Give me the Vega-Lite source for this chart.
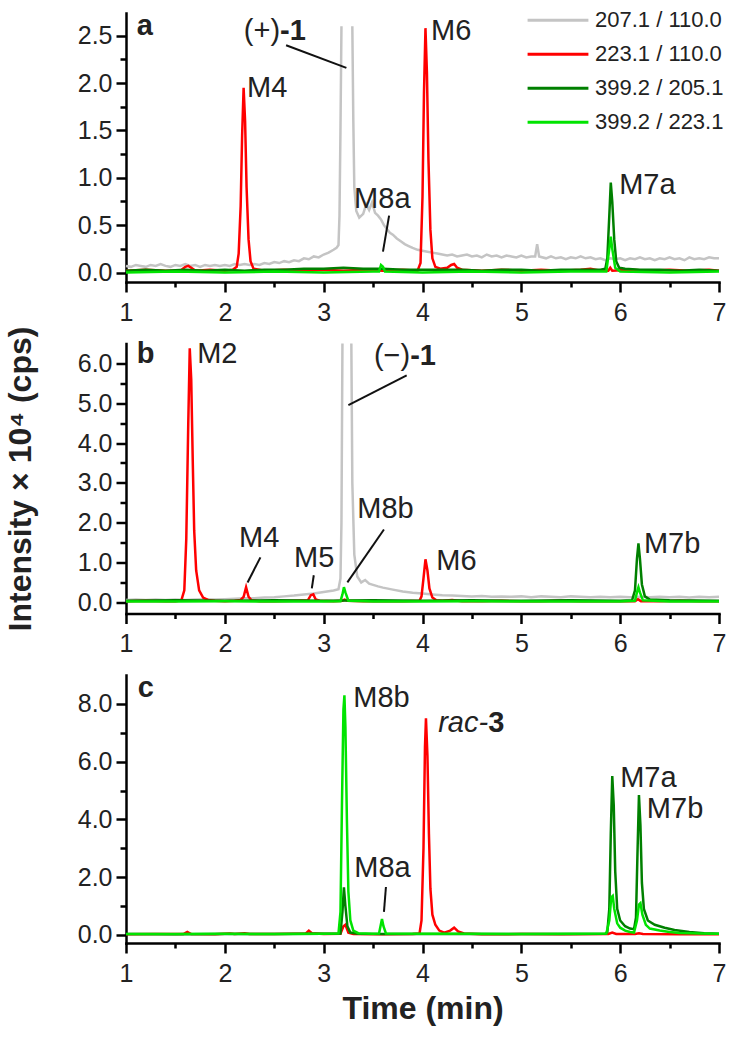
{
  "$schema": "https://vega.github.io/schema/vega-lite/v6.json",
  "background": "white",
  "padding": {"left": 4, "top": 3, "right": 8, "bottom": 2},
  "spacing": 61.5,
  "bounds": "flush",
  "config": {
    "view": {"stroke": null},
    "font": "Liberation Sans",
    "axis": {"grid": false, "domainColor": "black", "domainWidth": 2.5, "domainCap": "square", "tickColor": "black", "tickWidth": 2.5, "labelColor": "#222", "labelFont": "Liberation Sans", "labelFontSize": 25, "labelOverlap": false, "labelPadding": 4},
    "axisX": {"labelPadding": 8},
    "text": {"font": "Liberation Sans", "color": "#222"}
  },
  "resolve": {"scale": {"color": "shared"}, "legend": {"color": "shared"}},
  "datasets": {
    "tr": [
      {"p":"a","s":"s1","x":1.00,"y":0.07},{"p":"a","s":"s1","x":1.05,"y":0.06},{"p":"a","s":"s1","x":1.10,"y":0.08},{"p":"a","s":"s1","x":1.15,"y":0.07},{"p":"a","s":"s1","x":1.20,"y":0.06},{"p":"a","s":"s1","x":1.25,"y":0.08},{"p":"a","s":"s1","x":1.30,"y":0.07},{"p":"a","s":"s1","x":1.35,"y":0.09},{"p":"a","s":"s1","x":1.40,"y":0.07},{"p":"a","s":"s1","x":1.45,"y":0.06},{"p":"a","s":"s1","x":1.50,"y":0.08},{"p":"a","s":"s1","x":1.55,"y":0.07},{"p":"a","s":"s1","x":1.60,"y":0.09},{"p":"a","s":"s1","x":1.65,"y":0.07},{"p":"a","s":"s1","x":1.70,"y":0.08},{"p":"a","s":"s1","x":1.75,"y":0.06},{"p":"a","s":"s1","x":1.80,"y":0.08},{"p":"a","s":"s1","x":1.85,"y":0.07},{"p":"a","s":"s1","x":1.90,"y":0.08},{"p":"a","s":"s1","x":1.95,"y":0.07},{"p":"a","s":"s1","x":2.00,"y":0.08},{"p":"a","s":"s1","x":2.05,"y":0.07},{"p":"a","s":"s1","x":2.10,"y":0.09},{"p":"a","s":"s1","x":2.15,"y":0.08},{"p":"a","s":"s1","x":2.20,"y":0.09},{"p":"a","s":"s1","x":2.25,"y":0.08},{"p":"a","s":"s1","x":2.30,"y":0.09},{"p":"a","s":"s1","x":2.35,"y":0.08},{"p":"a","s":"s1","x":2.40,"y":0.10},{"p":"a","s":"s1","x":2.45,"y":0.09},{"p":"a","s":"s1","x":2.50,"y":0.11},{"p":"a","s":"s1","x":2.55,"y":0.10},{"p":"a","s":"s1","x":2.60,"y":0.12},{"p":"a","s":"s1","x":2.65,"y":0.11},{"p":"a","s":"s1","x":2.70,"y":0.13},{"p":"a","s":"s1","x":2.75,"y":0.12},{"p":"a","s":"s1","x":2.80,"y":0.15},{"p":"a","s":"s1","x":2.85,"y":0.14},{"p":"a","s":"s1","x":2.90,"y":0.17},{"p":"a","s":"s1","x":2.95,"y":0.16},{"p":"a","s":"s1","x":3.00,"y":0.19},{"p":"a","s":"s1","x":3.05,"y":0.21},{"p":"a","s":"s1","x":3.10,"y":0.24},{"p":"a","s":"s1","x":3.13,"y":0.26},{"p":"a","s":"s1","x":3.15,"y":0.29},{"p":"a","s":"s1","x":3.16,"y":0.6},{"p":"a","s":"s1","x":3.17,"y":1.5},{"p":"a","s":"s1","x":3.18,"y":2.6},
      {"p":"a","s":"s1","k":2,"x":3.29,"y":2.6},{"p":"a","s":"s1","k":2,"x":3.30,"y":1.6},{"p":"a","s":"s1","k":2,"x":3.31,"y":0.9},{"p":"a","s":"s1","k":2,"x":3.33,"y":0.65},{"p":"a","s":"s1","k":2,"x":3.36,"y":0.58},{"p":"a","s":"s1","k":2,"x":3.40,"y":0.62},{"p":"a","s":"s1","k":2,"x":3.43,"y":0.72},{"p":"a","s":"s1","k":2,"x":3.46,"y":0.66},{"p":"a","s":"s1","k":2,"x":3.49,"y":0.74},{"p":"a","s":"s1","k":2,"x":3.52,"y":0.63},{"p":"a","s":"s1","k":2,"x":3.55,"y":0.60},{"p":"a","s":"s1","k":2,"x":3.58,"y":0.56},{"p":"a","s":"s1","k":2,"x":3.61,"y":0.50},{"p":"a","s":"s1","k":2,"x":3.64,"y":0.46},{"p":"a","s":"s1","k":2,"x":3.67,"y":0.42},{"p":"a","s":"s1","k":2,"x":3.70,"y":0.40},{"p":"a","s":"s1","k":2,"x":3.74,"y":0.36},{"p":"a","s":"s1","k":2,"x":3.78,"y":0.33},{"p":"a","s":"s1","k":2,"x":3.82,"y":0.30},{"p":"a","s":"s1","k":2,"x":3.86,"y":0.28},{"p":"a","s":"s1","k":2,"x":3.90,"y":0.26},{"p":"a","s":"s1","k":2,"x":3.95,"y":0.24},{"p":"a","s":"s1","k":2,"x":4.00,"y":0.23},{"p":"a","s":"s1","k":2,"x":4.05,"y":0.22},{"p":"a","s":"s1","k":2,"x":4.10,"y":0.21},{"p":"a","s":"s1","k":2,"x":4.15,"y":0.20},{"p":"a","s":"s1","k":2,"x":4.20,"y":0.19},{"p":"a","s":"s1","k":2,"x":4.25,"y":0.18},{"p":"a","s":"s1","k":2,"x":4.30,"y":0.19},{"p":"a","s":"s1","k":2,"x":4.35,"y":0.17},{"p":"a","s":"s1","k":2,"x":4.40,"y":0.18},{"p":"a","s":"s1","k":2,"x":4.45,"y":0.19},{"p":"a","s":"s1","k":2,"x":4.50,"y":0.17},{"p":"a","s":"s1","k":2,"x":4.55,"y":0.18},{"p":"a","s":"s1","k":2,"x":4.60,"y":0.16},{"p":"a","s":"s1","k":2,"x":4.65,"y":0.19},{"p":"a","s":"s1","k":2,"x":4.70,"y":0.17},{"p":"a","s":"s1","k":2,"x":4.75,"y":0.18},{"p":"a","s":"s1","k":2,"x":4.80,"y":0.16},{"p":"a","s":"s1","k":2,"x":4.85,"y":0.18},{"p":"a","s":"s1","k":2,"x":4.90,"y":0.17},{"p":"a","s":"s1","k":2,"x":4.95,"y":0.16},{"p":"a","s":"s1","k":2,"x":5.00,"y":0.18},{"p":"a","s":"s1","k":2,"x":5.05,"y":0.16},{"p":"a","s":"s1","k":2,"x":5.10,"y":0.17},{"p":"a","s":"s1","k":2,"x":5.14,"y":0.17},{"p":"a","s":"s1","k":2,"x":5.16,"y":0.30},{"p":"a","s":"s1","k":2,"x":5.18,"y":0.17},{"p":"a","s":"s1","k":2,"x":5.25,"y":0.15},{"p":"a","s":"s1","k":2,"x":5.30,"y":0.17},{"p":"a","s":"s1","k":2,"x":5.35,"y":0.15},{"p":"a","s":"s1","k":2,"x":5.40,"y":0.16},{"p":"a","s":"s1","k":2,"x":5.45,"y":0.14},{"p":"a","s":"s1","k":2,"x":5.50,"y":0.16},{"p":"a","s":"s1","k":2,"x":5.55,"y":0.15},{"p":"a","s":"s1","k":2,"x":5.60,"y":0.17},{"p":"a","s":"s1","k":2,"x":5.65,"y":0.15},{"p":"a","s":"s1","k":2,"x":5.70,"y":0.16},{"p":"a","s":"s1","k":2,"x":5.75,"y":0.14},{"p":"a","s":"s1","k":2,"x":5.80,"y":0.15},{"p":"a","s":"s1","k":2,"x":5.85,"y":0.13},{"p":"a","s":"s1","k":2,"x":5.90,"y":0.15},{"p":"a","s":"s1","k":2,"x":5.95,"y":0.14},{"p":"a","s":"s1","k":2,"x":6.00,"y":0.15},{"p":"a","s":"s1","k":2,"x":6.05,"y":0.13},{"p":"a","s":"s1","k":2,"x":6.10,"y":0.15},{"p":"a","s":"s1","k":2,"x":6.15,"y":0.14},{"p":"a","s":"s1","k":2,"x":6.20,"y":0.16},{"p":"a","s":"s1","k":2,"x":6.25,"y":0.14},{"p":"a","s":"s1","k":2,"x":6.30,"y":0.15},{"p":"a","s":"s1","k":2,"x":6.35,"y":0.13},{"p":"a","s":"s1","k":2,"x":6.40,"y":0.15},{"p":"a","s":"s1","k":2,"x":6.45,"y":0.14},{"p":"a","s":"s1","k":2,"x":6.50,"y":0.16},{"p":"a","s":"s1","k":2,"x":6.55,"y":0.14},{"p":"a","s":"s1","k":2,"x":6.60,"y":0.15},{"p":"a","s":"s1","k":2,"x":6.65,"y":0.13},{"p":"a","s":"s1","k":2,"x":6.70,"y":0.16},{"p":"a","s":"s1","k":2,"x":6.75,"y":0.14},{"p":"a","s":"s1","k":2,"x":6.80,"y":0.15},{"p":"a","s":"s1","k":2,"x":6.85,"y":0.14},{"p":"a","s":"s1","k":2,"x":6.90,"y":0.16},{"p":"a","s":"s1","k":2,"x":6.95,"y":0.15},{"p":"a","s":"s1","k":2,"x":7.00,"y":0.15},

      {"p":"a","s":"s2","x":1.0,"y":0.02},{"p":"a","s":"s2","x":1.2,"y":0.03},{"p":"a","s":"s2","x":1.4,"y":0.02},{"p":"a","s":"s2","x":1.55,"y":0.02},{"p":"a","s":"s2","x":1.6,"y":0.06},{"p":"a","s":"s2","x":1.63,"y":0.07},{"p":"a","s":"s2","x":1.66,"y":0.05},{"p":"a","s":"s2","x":1.7,"y":0.02},{"p":"a","s":"s2","x":1.85,"y":0.03},{"p":"a","s":"s2","x":2.0,"y":0.02},{"p":"a","s":"s2","x":2.08,"y":0.03},{"p":"a","s":"s2","x":2.12,"y":0.06},{"p":"a","s":"s2","x":2.14,"y":0.2},{"p":"a","s":"s2","x":2.16,"y":0.7},{"p":"a","s":"s2","x":2.175,"y":1.45},{"p":"a","s":"s2","x":2.19,"y":1.95},{"p":"a","s":"s2","x":2.205,"y":1.6},{"p":"a","s":"s2","x":2.22,"y":0.9},{"p":"a","s":"s2","x":2.24,"y":0.35},{"p":"a","s":"s2","x":2.26,"y":0.12},{"p":"a","s":"s2","x":2.29,"y":0.04},{"p":"a","s":"s2","x":2.4,"y":0.02},{"p":"a","s":"s2","x":2.6,"y":0.03},{"p":"a","s":"s2","x":2.8,"y":0.02},{"p":"a","s":"s2","x":3.0,"y":0.03},{"p":"a","s":"s2","x":3.2,"y":0.02},{"p":"a","s":"s2","x":3.4,"y":0.03},{"p":"a","s":"s2","x":3.6,"y":0.02},{"p":"a","s":"s2","x":3.8,"y":0.03},{"p":"a","s":"s2","x":3.95,"y":0.02},{"p":"a","s":"s2","x":3.98,"y":0.1},{"p":"a","s":"s2","x":4.0,"y":0.8},{"p":"a","s":"s2","x":4.015,"y":1.9},{"p":"a","s":"s2","x":4.03,"y":2.58},{"p":"a","s":"s2","x":4.045,"y":2.1},{"p":"a","s":"s2","x":4.06,"y":1.2},{"p":"a","s":"s2","x":4.08,"y":0.45},{"p":"a","s":"s2","x":4.1,"y":0.15},{"p":"a","s":"s2","x":4.13,"y":0.06},{"p":"a","s":"s2","x":4.18,"y":0.04},{"p":"a","s":"s2","x":4.25,"y":0.05},{"p":"a","s":"s2","x":4.29,"y":0.08},{"p":"a","s":"s2","x":4.32,"y":0.09},{"p":"a","s":"s2","x":4.35,"y":0.05},{"p":"a","s":"s2","x":4.4,"y":0.03},{"p":"a","s":"s2","x":4.6,"y":0.02},{"p":"a","s":"s2","x":4.8,"y":0.03},{"p":"a","s":"s2","x":5.0,"y":0.02},{"p":"a","s":"s2","x":5.2,"y":0.03},{"p":"a","s":"s2","x":5.4,"y":0.02},{"p":"a","s":"s2","x":5.6,"y":0.03},{"p":"a","s":"s2","x":5.7,"y":0.04},{"p":"a","s":"s2","x":5.8,"y":0.02},{"p":"a","s":"s2","x":5.88,"y":0.02},{"p":"a","s":"s2","x":5.9,"y":0.05},{"p":"a","s":"s2","x":5.92,"y":0.02},{"p":"a","s":"s2","x":6.1,"y":0.03},{"p":"a","s":"s2","x":6.3,"y":0.02},{"p":"a","s":"s2","x":6.5,"y":0.03},{"p":"a","s":"s2","x":6.7,"y":0.02},{"p":"a","s":"s2","x":6.9,"y":0.03},{"p":"a","s":"s2","x":7.0,"y":0.02},

      {"p":"a","s":"s3","x":1.0,"y":0.02},{"p":"a","s":"s3","x":1.2,"y":0.03},{"p":"a","s":"s3","x":1.4,"y":0.02},{"p":"a","s":"s3","x":1.6,"y":0.03},{"p":"a","s":"s3","x":1.8,"y":0.02},{"p":"a","s":"s3","x":2.0,"y":0.03},{"p":"a","s":"s3","x":2.2,"y":0.02},{"p":"a","s":"s3","x":2.4,"y":0.03},{"p":"a","s":"s3","x":2.6,"y":0.03},{"p":"a","s":"s3","x":2.8,"y":0.04},{"p":"a","s":"s3","x":3.0,"y":0.04},{"p":"a","s":"s3","x":3.2,"y":0.05},{"p":"a","s":"s3","x":3.4,"y":0.04},{"p":"a","s":"s3","x":3.6,"y":0.04},{"p":"a","s":"s3","x":3.8,"y":0.03},{"p":"a","s":"s3","x":4.0,"y":0.03},{"p":"a","s":"s3","x":4.2,"y":0.03},{"p":"a","s":"s3","x":4.4,"y":0.03},{"p":"a","s":"s3","x":4.6,"y":0.02},{"p":"a","s":"s3","x":4.8,"y":0.03},{"p":"a","s":"s3","x":5.0,"y":0.03},{"p":"a","s":"s3","x":5.2,"y":0.02},{"p":"a","s":"s3","x":5.4,"y":0.03},{"p":"a","s":"s3","x":5.6,"y":0.03},{"p":"a","s":"s3","x":5.8,"y":0.03},{"p":"a","s":"s3","x":5.85,"y":0.04},{"p":"a","s":"s3","x":5.87,"y":0.15},{"p":"a","s":"s3","x":5.89,"y":0.6},{"p":"a","s":"s3","x":5.905,"y":0.95},{"p":"a","s":"s3","x":5.92,"y":0.75},{"p":"a","s":"s3","x":5.94,"y":0.35},{"p":"a","s":"s3","x":5.96,"y":0.12},{"p":"a","s":"s3","x":5.99,"y":0.05},{"p":"a","s":"s3","x":6.05,"y":0.04},{"p":"a","s":"s3","x":6.2,"y":0.03},{"p":"a","s":"s3","x":6.4,"y":0.03},{"p":"a","s":"s3","x":6.6,"y":0.02},{"p":"a","s":"s3","x":6.8,"y":0.03},{"p":"a","s":"s3","x":7.0,"y":0.02},

      {"p":"a","s":"s4","x":1.0,"y":0.0},{"p":"a","s":"s4","x":1.5,"y":0.01},{"p":"a","s":"s4","x":2.0,"y":0.0},{"p":"a","s":"s4","x":2.5,"y":0.01},{"p":"a","s":"s4","x":3.0,"y":0.0},{"p":"a","s":"s4","x":3.5,"y":0.01},{"p":"a","s":"s4","x":3.56,"y":0.01},{"p":"a","s":"s4","x":3.58,"y":0.08},{"p":"a","s":"s4","x":3.6,"y":0.06},{"p":"a","s":"s4","x":3.62,"y":0.01},{"p":"a","s":"s4","x":4.0,"y":0.0},{"p":"a","s":"s4","x":4.5,"y":0.01},{"p":"a","s":"s4","x":5.0,"y":0.0},{"p":"a","s":"s4","x":5.5,"y":0.01},{"p":"a","s":"s4","x":5.86,"y":0.01},{"p":"a","s":"s4","x":5.89,"y":0.25},{"p":"a","s":"s4","x":5.905,"y":0.38},{"p":"a","s":"s4","x":5.92,"y":0.25},{"p":"a","s":"s4","x":5.95,"y":0.05},{"p":"a","s":"s4","x":6.0,"y":0.01},{"p":"a","s":"s4","x":6.5,"y":0.0},{"p":"a","s":"s4","x":7.0,"y":0.01},

      {"p":"b","s":"s1","x":1.0,"y":0.06},{"p":"b","s":"s1","x":1.1,"y":0.07},{"p":"b","s":"s1","x":1.2,"y":0.06},{"p":"b","s":"s1","x":1.3,"y":0.07},{"p":"b","s":"s1","x":1.4,"y":0.06},{"p":"b","s":"s1","x":1.5,"y":0.07},{"p":"b","s":"s1","x":1.6,"y":0.06},{"p":"b","s":"s1","x":1.7,"y":0.07},{"p":"b","s":"s1","x":1.8,"y":0.08},{"p":"b","s":"s1","x":1.9,"y":0.07},{"p":"b","s":"s1","x":2.0,"y":0.08},{"p":"b","s":"s1","x":2.1,"y":0.09},{"p":"b","s":"s1","x":2.2,"y":0.1},{"p":"b","s":"s1","x":2.3,"y":0.1},{"p":"b","s":"s1","x":2.4,"y":0.12},{"p":"b","s":"s1","x":2.5,"y":0.13},{"p":"b","s":"s1","x":2.6,"y":0.15},{"p":"b","s":"s1","x":2.7,"y":0.17},{"p":"b","s":"s1","x":2.8,"y":0.2},{"p":"b","s":"s1","x":2.9,"y":0.22},{"p":"b","s":"s1","x":3.0,"y":0.26},{"p":"b","s":"s1","x":3.05,"y":0.28},{"p":"b","s":"s1","x":3.1,"y":0.3},{"p":"b","s":"s1","x":3.15,"y":0.33},{"p":"b","s":"s1","x":3.17,"y":0.6},{"p":"b","s":"s1","x":3.18,"y":2.0},{"p":"b","s":"s1","x":3.19,"y":6.5},
      {"p":"b","s":"s1","k":2,"x":3.28,"y":6.5},{"p":"b","s":"s1","k":2,"x":3.29,"y":3.0},{"p":"b","s":"s1","k":2,"x":3.31,"y":1.2},{"p":"b","s":"s1","k":2,"x":3.34,"y":0.65},{"p":"b","s":"s1","k":2,"x":3.38,"y":0.5},{"p":"b","s":"s1","k":2,"x":3.42,"y":0.56},{"p":"b","s":"s1","k":2,"x":3.46,"y":0.47},{"p":"b","s":"s1","k":2,"x":3.5,"y":0.44},{"p":"b","s":"s1","k":2,"x":3.55,"y":0.4},{"p":"b","s":"s1","k":2,"x":3.6,"y":0.37},{"p":"b","s":"s1","k":2,"x":3.7,"y":0.32},{"p":"b","s":"s1","k":2,"x":3.8,"y":0.27},{"p":"b","s":"s1","k":2,"x":3.9,"y":0.24},{"p":"b","s":"s1","k":2,"x":4.0,"y":0.22},{"p":"b","s":"s1","k":2,"x":4.1,"y":0.2},{"p":"b","s":"s1","k":2,"x":4.2,"y":0.18},{"p":"b","s":"s1","k":2,"x":4.3,"y":0.17},{"p":"b","s":"s1","k":2,"x":4.4,"y":0.16},{"p":"b","s":"s1","k":2,"x":4.5,"y":0.15},{"p":"b","s":"s1","k":2,"x":4.6,"y":0.16},{"p":"b","s":"s1","k":2,"x":4.7,"y":0.14},{"p":"b","s":"s1","k":2,"x":4.8,"y":0.15},{"p":"b","s":"s1","k":2,"x":4.9,"y":0.14},{"p":"b","s":"s1","k":2,"x":5.0,"y":0.15},{"p":"b","s":"s1","k":2,"x":5.1,"y":0.13},{"p":"b","s":"s1","k":2,"x":5.2,"y":0.15},{"p":"b","s":"s1","k":2,"x":5.3,"y":0.14},{"p":"b","s":"s1","k":2,"x":5.4,"y":0.13},{"p":"b","s":"s1","k":2,"x":5.5,"y":0.15},{"p":"b","s":"s1","k":2,"x":5.6,"y":0.14},{"p":"b","s":"s1","k":2,"x":5.7,"y":0.13},{"p":"b","s":"s1","k":2,"x":5.8,"y":0.14},{"p":"b","s":"s1","k":2,"x":5.9,"y":0.13},{"p":"b","s":"s1","k":2,"x":6.0,"y":0.14},{"p":"b","s":"s1","k":2,"x":6.1,"y":0.13},{"p":"b","s":"s1","k":2,"x":6.2,"y":0.14},{"p":"b","s":"s1","k":2,"x":6.3,"y":0.13},{"p":"b","s":"s1","k":2,"x":6.4,"y":0.14},{"p":"b","s":"s1","k":2,"x":6.5,"y":0.13},{"p":"b","s":"s1","k":2,"x":6.6,"y":0.14},{"p":"b","s":"s1","k":2,"x":6.7,"y":0.12},{"p":"b","s":"s1","k":2,"x":6.8,"y":0.14},{"p":"b","s":"s1","k":2,"x":6.9,"y":0.13},{"p":"b","s":"s1","k":2,"x":7.0,"y":0.14},

      {"p":"b","s":"s2","x":1.0,"y":0.03},{"p":"b","s":"s2","x":1.2,"y":0.04},{"p":"b","s":"s2","x":1.4,"y":0.03},{"p":"b","s":"s2","x":1.5,"y":0.03},{"p":"b","s":"s2","x":1.56,"y":0.05},{"p":"b","s":"s2","x":1.59,"y":0.3},{"p":"b","s":"s2","x":1.61,"y":1.6},{"p":"b","s":"s2","x":1.63,"y":4.5},{"p":"b","s":"s2","x":1.645,"y":6.38},{"p":"b","s":"s2","x":1.66,"y":5.6},{"p":"b","s":"s2","x":1.675,"y":3.6},{"p":"b","s":"s2","x":1.69,"y":1.8},{"p":"b","s":"s2","x":1.71,"y":0.8},{"p":"b","s":"s2","x":1.74,"y":0.3},{"p":"b","s":"s2","x":1.78,"y":0.12},{"p":"b","s":"s2","x":1.83,"y":0.06},{"p":"b","s":"s2","x":1.9,"y":0.04},{"p":"b","s":"s2","x":2.0,"y":0.03},{"p":"b","s":"s2","x":2.1,"y":0.04},{"p":"b","s":"s2","x":2.16,"y":0.06},{"p":"b","s":"s2","x":2.19,"y":0.14},{"p":"b","s":"s2","x":2.215,"y":0.38},{"p":"b","s":"s2","x":2.24,"y":0.14},{"p":"b","s":"s2","x":2.27,"y":0.05},{"p":"b","s":"s2","x":2.35,"y":0.03},{"p":"b","s":"s2","x":2.5,"y":0.03},{"p":"b","s":"s2","x":2.7,"y":0.04},{"p":"b","s":"s2","x":2.84,"y":0.05},{"p":"b","s":"s2","x":2.87,"y":0.18},{"p":"b","s":"s2","x":2.895,"y":0.2},{"p":"b","s":"s2","x":2.92,"y":0.07},{"p":"b","s":"s2","x":2.96,"y":0.04},{"p":"b","s":"s2","x":3.1,"y":0.03},{"p":"b","s":"s2","x":3.19,"y":0.04},{"p":"b","s":"s2","x":3.21,"y":0.07},{"p":"b","s":"s2","x":3.24,"y":0.04},{"p":"b","s":"s2","x":3.4,"y":0.03},{"p":"b","s":"s2","x":3.6,"y":0.03},{"p":"b","s":"s2","x":3.8,"y":0.03},{"p":"b","s":"s2","x":3.97,"y":0.04},{"p":"b","s":"s2","x":3.99,"y":0.15},{"p":"b","s":"s2","x":4.01,"y":0.6},{"p":"b","s":"s2","x":4.03,"y":1.08},{"p":"b","s":"s2","x":4.05,"y":0.8},{"p":"b","s":"s2","x":4.07,"y":0.35},{"p":"b","s":"s2","x":4.1,"y":0.12},{"p":"b","s":"s2","x":4.14,"y":0.05},{"p":"b","s":"s2","x":4.2,"y":0.04},{"p":"b","s":"s2","x":4.3,"y":0.06},{"p":"b","s":"s2","x":4.4,"y":0.03},{"p":"b","s":"s2","x":4.6,"y":0.03},{"p":"b","s":"s2","x":4.8,"y":0.04},{"p":"b","s":"s2","x":5.0,"y":0.03},{"p":"b","s":"s2","x":5.2,"y":0.03},{"p":"b","s":"s2","x":5.4,"y":0.04},{"p":"b","s":"s2","x":5.6,"y":0.03},{"p":"b","s":"s2","x":5.8,"y":0.03},{"p":"b","s":"s2","x":6.0,"y":0.03},{"p":"b","s":"s2","x":6.15,"y":0.03},{"p":"b","s":"s2","x":6.18,"y":0.08},{"p":"b","s":"s2","x":6.21,"y":0.03},{"p":"b","s":"s2","x":6.4,"y":0.03},{"p":"b","s":"s2","x":6.6,"y":0.04},{"p":"b","s":"s2","x":6.8,"y":0.03},{"p":"b","s":"s2","x":7.0,"y":0.03},

      {"p":"b","s":"s3","x":1.0,"y":0.04},{"p":"b","s":"s3","x":1.5,"y":0.05},{"p":"b","s":"s3","x":2.0,"y":0.04},{"p":"b","s":"s3","x":2.5,"y":0.05},{"p":"b","s":"s3","x":3.0,"y":0.04},{"p":"b","s":"s3","x":3.5,"y":0.05},{"p":"b","s":"s3","x":4.0,"y":0.04},{"p":"b","s":"s3","x":4.5,"y":0.05},{"p":"b","s":"s3","x":5.0,"y":0.04},{"p":"b","s":"s3","x":5.5,"y":0.05},{"p":"b","s":"s3","x":6.0,"y":0.04},{"p":"b","s":"s3","x":6.12,"y":0.05},{"p":"b","s":"s3","x":6.15,"y":0.3},{"p":"b","s":"s3","x":6.17,"y":1.1},{"p":"b","s":"s3","x":6.185,"y":1.48},{"p":"b","s":"s3","x":6.2,"y":1.1},{"p":"b","s":"s3","x":6.22,"y":0.45},{"p":"b","s":"s3","x":6.25,"y":0.15},{"p":"b","s":"s3","x":6.3,"y":0.07},{"p":"b","s":"s3","x":6.5,"y":0.05},{"p":"b","s":"s3","x":7.0,"y":0.04},

      {"p":"b","s":"s4","x":1.0,"y":0.02},{"p":"b","s":"s4","x":1.5,"y":0.02},{"p":"b","s":"s4","x":2.0,"y":0.03},{"p":"b","s":"s4","x":2.5,"y":0.02},{"p":"b","s":"s4","x":3.0,"y":0.02},{"p":"b","s":"s4","x":3.17,"y":0.03},{"p":"b","s":"s4","x":3.19,"y":0.2},{"p":"b","s":"s4","x":3.205,"y":0.38},{"p":"b","s":"s4","x":3.22,"y":0.25},{"p":"b","s":"s4","x":3.25,"y":0.04},{"p":"b","s":"s4","x":3.5,"y":0.02},{"p":"b","s":"s4","x":4.0,"y":0.02},{"p":"b","s":"s4","x":4.5,"y":0.03},{"p":"b","s":"s4","x":5.0,"y":0.02},{"p":"b","s":"s4","x":5.5,"y":0.02},{"p":"b","s":"s4","x":6.0,"y":0.02},{"p":"b","s":"s4","x":6.15,"y":0.04},{"p":"b","s":"s4","x":6.17,"y":0.25},{"p":"b","s":"s4","x":6.185,"y":0.38},{"p":"b","s":"s4","x":6.2,"y":0.25},{"p":"b","s":"s4","x":6.23,"y":0.05},{"p":"b","s":"s4","x":6.5,"y":0.02},{"p":"b","s":"s4","x":7.0,"y":0.02},

      {"p":"c","s":"s2","x":1.0,"y":0.02},{"p":"c","s":"s2","x":1.3,"y":0.03},{"p":"c","s":"s2","x":1.58,"y":0.03},{"p":"c","s":"s2","x":1.62,"y":0.1},{"p":"c","s":"s2","x":1.66,"y":0.03},{"p":"c","s":"s2","x":1.9,"y":0.02},{"p":"c","s":"s2","x":2.05,"y":0.05},{"p":"c","s":"s2","x":2.1,"y":0.03},{"p":"c","s":"s2","x":2.2,"y":0.06},{"p":"c","s":"s2","x":2.25,"y":0.03},{"p":"c","s":"s2","x":2.5,"y":0.03},{"p":"c","s":"s2","x":2.7,"y":0.04},{"p":"c","s":"s2","x":2.82,"y":0.05},{"p":"c","s":"s2","x":2.85,"y":0.15},{"p":"c","s":"s2","x":2.88,"y":0.06},{"p":"c","s":"s2","x":3.0,"y":0.03},{"p":"c","s":"s2","x":3.17,"y":0.04},{"p":"c","s":"s2","x":3.2,"y":0.3},{"p":"c","s":"s2","x":3.22,"y":0.35},{"p":"c","s":"s2","x":3.25,"y":0.08},{"p":"c","s":"s2","x":3.3,"y":0.03},{"p":"c","s":"s2","x":3.6,"y":0.02},{"p":"c","s":"s2","x":3.9,"y":0.03},{"p":"c","s":"s2","x":3.97,"y":0.05},{"p":"c","s":"s2","x":3.99,"y":0.5},{"p":"c","s":"s2","x":4.01,"y":3.0},{"p":"c","s":"s2","x":4.025,"y":6.5},{"p":"c","s":"s2","x":4.035,"y":7.5},{"p":"c","s":"s2","x":4.05,"y":6.2},{"p":"c","s":"s2","x":4.065,"y":3.5},{"p":"c","s":"s2","x":4.08,"y":1.6},{"p":"c","s":"s2","x":4.1,"y":0.7},{"p":"c","s":"s2","x":4.13,"y":0.35},{"p":"c","s":"s2","x":4.17,"y":0.15},{"p":"c","s":"s2","x":4.22,"y":0.08},{"p":"c","s":"s2","x":4.28,"y":0.15},{"p":"c","s":"s2","x":4.32,"y":0.25},{"p":"c","s":"s2","x":4.36,"y":0.12},{"p":"c","s":"s2","x":4.42,"y":0.05},{"p":"c","s":"s2","x":4.6,"y":0.02},{"p":"c","s":"s2","x":5.0,"y":0.03},{"p":"c","s":"s2","x":5.4,"y":0.02},{"p":"c","s":"s2","x":5.88,"y":0.03},{"p":"c","s":"s2","x":5.92,"y":0.08},{"p":"c","s":"s2","x":5.96,"y":0.03},{"p":"c","s":"s2","x":6.15,"y":0.03},{"p":"c","s":"s2","x":6.19,"y":0.06},{"p":"c","s":"s2","x":6.23,"y":0.03},{"p":"c","s":"s2","x":6.6,"y":0.02},{"p":"c","s":"s2","x":7.0,"y":0.02},

      {"p":"c","s":"s3","x":1.0,"y":0.03},{"p":"c","s":"s3","x":1.5,"y":0.02},{"p":"c","s":"s3","x":2.0,"y":0.03},{"p":"c","s":"s3","x":2.5,"y":0.03},{"p":"c","s":"s3","x":3.0,"y":0.04},{"p":"c","s":"s3","x":3.17,"y":0.05},{"p":"c","s":"s3","x":3.19,"y":0.8},{"p":"c","s":"s3","x":3.205,"y":1.65},{"p":"c","s":"s3","x":3.22,"y":1.0},{"p":"c","s":"s3","x":3.24,"y":0.3},{"p":"c","s":"s3","x":3.27,"y":0.08},{"p":"c","s":"s3","x":3.35,"y":0.04},{"p":"c","s":"s3","x":3.6,"y":0.03},{"p":"c","s":"s3","x":4.0,"y":0.03},{"p":"c","s":"s3","x":4.5,"y":0.03},{"p":"c","s":"s3","x":5.0,"y":0.03},{"p":"c","s":"s3","x":5.5,"y":0.03},{"p":"c","s":"s3","x":5.85,"y":0.04},{"p":"c","s":"s3","x":5.87,"y":0.1},{"p":"c","s":"s3","x":5.89,"y":0.9},{"p":"c","s":"s3","x":5.905,"y":3.5},{"p":"c","s":"s3","x":5.92,"y":5.5},{"p":"c","s":"s3","x":5.935,"y":4.5},{"p":"c","s":"s3","x":5.95,"y":2.2},{"p":"c","s":"s3","x":5.97,"y":0.9},{"p":"c","s":"s3","x":6.0,"y":0.5},{"p":"c","s":"s3","x":6.05,"y":0.3},{"p":"c","s":"s3","x":6.1,"y":0.22},{"p":"c","s":"s3","x":6.14,"y":0.2},{"p":"c","s":"s3","x":6.16,"y":0.6},{"p":"c","s":"s3","x":6.175,"y":2.8},{"p":"c","s":"s3","x":6.19,"y":4.84},{"p":"c","s":"s3","x":6.205,"y":3.8},{"p":"c","s":"s3","x":6.22,"y":1.8},{"p":"c","s":"s3","x":6.24,"y":0.9},{"p":"c","s":"s3","x":6.28,"y":0.5},{"p":"c","s":"s3","x":6.35,"y":0.35},{"p":"c","s":"s3","x":6.45,"y":0.25},{"p":"c","s":"s3","x":6.55,"y":0.17},{"p":"c","s":"s3","x":6.7,"y":0.1},{"p":"c","s":"s3","x":6.85,"y":0.06},{"p":"c","s":"s3","x":7.0,"y":0.04},

      {"p":"c","s":"s4","x":1.0,"y":0.03},{"p":"c","s":"s4","x":1.5,"y":0.03},{"p":"c","s":"s4","x":2.0,"y":0.04},{"p":"c","s":"s4","x":2.5,"y":0.03},{"p":"c","s":"s4","x":3.0,"y":0.04},{"p":"c","s":"s4","x":3.15,"y":0.05},{"p":"c","s":"s4","x":3.17,"y":0.8},{"p":"c","s":"s4","x":3.185,"y":4.5},{"p":"c","s":"s4","x":3.2,"y":7.8},{"p":"c","s":"s4","x":3.21,"y":8.3},{"p":"c","s":"s4","x":3.22,"y":7.2},{"p":"c","s":"s4","x":3.235,"y":4.0},{"p":"c","s":"s4","x":3.25,"y":1.5},{"p":"c","s":"s4","x":3.27,"y":0.5},{"p":"c","s":"s4","x":3.3,"y":0.15},{"p":"c","s":"s4","x":3.35,"y":0.06},{"p":"c","s":"s4","x":3.5,"y":0.04},{"p":"c","s":"s4","x":3.56,"y":0.05},{"p":"c","s":"s4","x":3.575,"y":0.3},{"p":"c","s":"s4","x":3.59,"y":0.55},{"p":"c","s":"s4","x":3.605,"y":0.3},{"p":"c","s":"s4","x":3.63,"y":0.05},{"p":"c","s":"s4","x":4.0,"y":0.04},{"p":"c","s":"s4","x":4.5,"y":0.04},{"p":"c","s":"s4","x":5.0,"y":0.03},{"p":"c","s":"s4","x":5.5,"y":0.04},{"p":"c","s":"s4","x":5.86,"y":0.05},{"p":"c","s":"s4","x":5.89,"y":0.5},{"p":"c","s":"s4","x":5.91,"y":1.3},{"p":"c","s":"s4","x":5.925,"y":1.35},{"p":"c","s":"s4","x":5.94,"y":0.9},{"p":"c","s":"s4","x":5.97,"y":0.4},{"p":"c","s":"s4","x":6.0,"y":0.25},{"p":"c","s":"s4","x":6.05,"y":0.15},{"p":"c","s":"s4","x":6.1,"y":0.1},{"p":"c","s":"s4","x":6.14,"y":0.08},{"p":"c","s":"s4","x":6.17,"y":0.5},{"p":"c","s":"s4","x":6.19,"y":1.05},{"p":"c","s":"s4","x":6.205,"y":1.1},{"p":"c","s":"s4","x":6.225,"y":0.7},{"p":"c","s":"s4","x":6.26,"y":0.35},{"p":"c","s":"s4","x":6.3,"y":0.22},{"p":"c","s":"s4","x":6.4,"y":0.15},{"p":"c","s":"s4","x":6.5,"y":0.1},{"p":"c","s":"s4","x":6.6,"y":0.07},{"p":"c","s":"s4","x":6.8,"y":0.05},{"p":"c","s":"s4","x":7.0,"y":0.04}
    ],
    "ann": [
      {"p":"a","x":2.225,"y":1.85,"t":"M4"},{"p":"a","x":4.087,"y":2.455,"t":"M6"},{"p":"a","x":3.308,"y":0.685,"t":"M8a"},{"p":"a","x":5.99,"y":0.83,"t":"M7a"},
      {"p":"b","x":1.72,"y":6.0,"t":"M2"},{"p":"b","x":2.144,"y":1.38,"t":"M4"},{"p":"b","x":2.70,"y":0.88,"t":"M5"},{"p":"b","x":3.34,"y":2.11,"t":"M8b"},{"p":"b","x":4.14,"y":0.80,"t":"M6"},{"p":"b","x":6.24,"y":1.23,"t":"M7b"},
      {"p":"c","x":3.30,"y":7.89,"t":"M8b"},{"p":"c","x":3.31,"y":2.0,"t":"M8a"},{"p":"c","x":6.0,"y":5.12,"t":"M7a"},{"p":"c","x":6.27,"y":4.05,"t":"M7b"}
    ],
    "pre": [{"p":"a","x":2.559,"y":2.455,"t":"(+)"},{"p":"b","x":3.875,"y":5.95,"t":"(−)"}],
    "ital": [{"p":"c","x":4.664,"y":7.02,"t":"rac-"}],
    "bold": [{"p":"a","x":2.559,"y":2.455,"t":"-1"},{"p":"b","x":3.875,"y":5.95,"t":"-1"},{"p":"c","x":4.664,"y":7.02,"t":"3"}],
    "letters": [{"p":"a","x":1.11,"y":2.51,"t":"a"},{"p":"b","x":1.11,"y":6.0,"t":"b"},{"p":"c","x":1.12,"y":8.24,"t":"c"}],
    "lead": [
      {"p":"a","x":2.62,"y":2.40,"x2":3.23,"y2":2.16},{"p":"a","x":3.662,"y":0.60,"x2":3.60,"y2":0.22},
      {"p":"b","x":2.36,"y":1.13,"x2":2.23,"y2":0.50},{"p":"b","x":2.90,"y":0.68,"x2":2.88,"y2":0.35},{"p":"b","x":3.61,"y":1.83,"x2":3.24,"y2":0.50},{"p":"b","x":3.84,"y":5.70,"x2":3.25,"y2":4.95},
      {"p":"c","x":3.63,"y":1.66,"x2":3.61,"y2":0.80}
    ]
  },
  "vconcat": [
    {
      "width": 593, "height": 269,
      "resolve": {"axis": {"x": "independent", "y": "independent"}},
      "layer": [
        {"data": {"name": "tr"}, "transform": [{"filter": "datum.p == 'a'"}],
         "mark": {"type": "line", "strokeWidth": 2.5},
         "encoding": {
           "x": {"field": "x", "type": "quantitative", "scale": {"domain": [1, 7], "nice": false, "zero": false},
                 "axis": {"orient": "bottom", "values": [1,2,3,4,5,6,7], "format": "d", "tickSize": 10, "title": null, "labelFlush": false}},
           "y": {"field": "y", "type": "quantitative", "scale": {"domain": [-0.1, 2.74], "nice": false, "zero": false},
                 "axis": {"orient": "left", "values": [0,0.5,1,1.5,2,2.5], "format": ".1f", "tickSize": 10, "title": null}},
           "color": {"field": "s", "type": "nominal", "scale": {"domain": ["s1","s2","s3","s4"], "range": ["#C4C4C4","#FF0000","#008000","#00E400"]},
                     "legend": {"orient": "none", "legendX": 400, "legendY": -9.5, "title": null, "symbolType": "stroke", "symbolSize": 3700, "symbolStrokeWidth": 3, "clipHeight": 33.5, "labelFontSize": 22, "labelColor": "#222", "labelFont": "Liberation Sans", "labelOffset": 5, "rowPadding": 0, "padding": 0, "labelExpr": "datum.label == 's1' ? '207.1 / 110.0' : datum.label == 's2' ? '223.1 / 110.0' : datum.label == 's3' ? '399.2 / 205.1' : '399.2 / 223.1'"}},
           "detail": {"field": "k"}
         }},
        {"data": {"name": "lead"}, "transform": [{"filter": "datum.p == 'a'"}],
         "mark": {"type": "rule", "strokeWidth": 2, "color": "#111"},
         "encoding": {
           "x": {"field": "x", "type": "quantitative", "axis": {"orient": "bottom", "values": [1.5,2.5,3.5,4.5,5.5,6.5], "labels": false, "domain": false, "tickSize": 5, "title": null}},
           "y": {"field": "y", "type": "quantitative", "axis": {"orient": "left", "values": [0.25,0.75,1.25,1.75,2.25], "labels": false, "domain": false, "tickSize": 6, "title": null}},
           "x2": {"field": "x2"}, "y2": {"field": "y2"}}},
        {"data": {"name": "ann"}, "transform": [{"filter": "datum.p == 'a'"}],
         "mark": {"type": "text", "align": "left", "baseline": "alphabetic", "fontSize": 29},
         "encoding": {"x": {"field": "x", "type": "quantitative", "axis": null}, "y": {"field": "y", "type": "quantitative", "axis": null}, "text": {"field": "t"}}},
        {"data": {"name": "pre"}, "transform": [{"filter": "datum.p == 'a'"}],
         "mark": {"type": "text", "align": "right", "baseline": "alphabetic", "fontSize": 29},
         "encoding": {"x": {"field": "x", "type": "quantitative", "axis": null}, "y": {"field": "y", "type": "quantitative", "axis": null}, "text": {"field": "t"}}},
        {"data": {"name": "bold"}, "transform": [{"filter": "datum.p == 'a'"}],
         "mark": {"type": "text", "align": "left", "baseline": "alphabetic", "fontSize": 29, "fontWeight": "bold"},
         "encoding": {"x": {"field": "x", "type": "quantitative", "axis": null}, "y": {"field": "y", "type": "quantitative", "axis": null}, "text": {"field": "t"}}},
        {"data": {"name": "letters"}, "transform": [{"filter": "datum.p == 'a'"}],
         "mark": {"type": "text", "align": "left", "baseline": "alphabetic", "fontSize": 29, "fontWeight": "bold"},
         "encoding": {"x": {"field": "x", "type": "quantitative", "axis": null}, "y": {"field": "y", "type": "quantitative", "axis": null}, "text": {"field": "t"}}}
      ]
    },
    {
      "width": 593, "height": 270,
      "resolve": {"axis": {"x": "independent", "y": "independent"}},
      "layer": [
        {"data": {"name": "tr"}, "transform": [{"filter": "datum.p == 'b'"}],
         "mark": {"type": "line", "strokeWidth": 2.5},
         "encoding": {
           "x": {"field": "x", "type": "quantitative", "scale": {"domain": [1, 7], "nice": false, "zero": false},
                 "axis": {"orient": "bottom", "values": [1,2,3,4,5,6,7], "format": "d", "tickSize": 10, "title": null, "labelFlush": false}},
           "y": {"field": "y", "type": "quantitative", "scale": {"domain": [-0.28, 6.5], "nice": false, "zero": false},
                 "axis": {"orient": "left", "values": [0,1,2,3,4,5,6], "format": ".1f", "tickSize": 10,
                          "title": "Intensity × 10⁴ (cps)", "titleFontSize": 32, "titleFontWeight": "bold", "titleColor": "#222", "titlePadding": 40}},
           "color": {"field": "s", "type": "nominal", "scale": {"domain": ["s1","s2","s3","s4"], "range": ["#C4C4C4","#FF0000","#008000","#00E400"]},
                     "legend": {"orient": "none", "legendX": 400, "legendY": -9.5, "title": null, "symbolType": "stroke", "symbolSize": 3700, "symbolStrokeWidth": 3, "clipHeight": 33.5, "labelFontSize": 22, "labelColor": "#222", "labelFont": "Liberation Sans", "labelOffset": 5, "rowPadding": 0, "padding": 0, "labelExpr": "datum.label == 's1' ? '207.1 / 110.0' : datum.label == 's2' ? '223.1 / 110.0' : datum.label == 's3' ? '399.2 / 205.1' : '399.2 / 223.1'"}},
           "detail": {"field": "k"}
         }},
        {"data": {"name": "lead"}, "transform": [{"filter": "datum.p == 'b'"}],
         "mark": {"type": "rule", "strokeWidth": 2, "color": "#111"},
         "encoding": {
           "x": {"field": "x", "type": "quantitative", "axis": {"orient": "bottom", "values": [1.5,2.5,3.5,4.5,5.5,6.5], "labels": false, "domain": false, "tickSize": 5, "title": null}},
           "y": {"field": "y", "type": "quantitative", "axis": {"orient": "left", "values": [0.5,1.5,2.5,3.5,4.5,5.5], "labels": false, "domain": false, "tickSize": 6, "title": null}},
           "x2": {"field": "x2"}, "y2": {"field": "y2"}}},
        {"data": {"name": "ann"}, "transform": [{"filter": "datum.p == 'b'"}],
         "mark": {"type": "text", "align": "left", "baseline": "alphabetic", "fontSize": 29},
         "encoding": {"x": {"field": "x", "type": "quantitative", "axis": null}, "y": {"field": "y", "type": "quantitative", "axis": null}, "text": {"field": "t"}}},
        {"data": {"name": "pre"}, "transform": [{"filter": "datum.p == 'b'"}],
         "mark": {"type": "text", "align": "right", "baseline": "alphabetic", "fontSize": 29},
         "encoding": {"x": {"field": "x", "type": "quantitative", "axis": null}, "y": {"field": "y", "type": "quantitative", "axis": null}, "text": {"field": "t"}}},
        {"data": {"name": "bold"}, "transform": [{"filter": "datum.p == 'b'"}],
         "mark": {"type": "text", "align": "left", "baseline": "alphabetic", "fontSize": 29, "fontWeight": "bold"},
         "encoding": {"x": {"field": "x", "type": "quantitative", "axis": null}, "y": {"field": "y", "type": "quantitative", "axis": null}, "text": {"field": "t"}}},
        {"data": {"name": "letters"}, "transform": [{"filter": "datum.p == 'b'"}],
         "mark": {"type": "text", "align": "left", "baseline": "alphabetic", "fontSize": 29, "fontWeight": "bold"},
         "encoding": {"x": {"field": "x", "type": "quantitative", "axis": null}, "y": {"field": "y", "type": "quantitative", "axis": null}, "text": {"field": "t"}}}
      ]
    },
    {
      "width": 593, "height": 268,
      "resolve": {"axis": {"x": "independent", "y": "independent"}},
      "layer": [
        {"data": {"name": "tr"}, "transform": [{"filter": "datum.p == 'c'"}],
         "mark": {"type": "line", "strokeWidth": 2.5},
         "encoding": {
           "x": {"field": "x", "type": "quantitative", "scale": {"domain": [1, 7], "nice": false, "zero": false},
                 "axis": {"orient": "bottom", "values": [1,2,3,4,5,6,7], "format": "d", "tickSize": 10, "labelFlush": false,
                          "title": "Time (min)", "titleFontSize": 32, "titleFontWeight": "bold", "titleColor": "#222", "titlePadding": 7}},
           "y": {"field": "y", "type": "quantitative", "scale": {"domain": [-0.28, 9.0], "nice": false, "zero": false},
                 "axis": {"orient": "left", "values": [0,2,4,6,8], "format": ".1f", "tickSize": 10, "title": null}},
           "color": {"field": "s", "type": "nominal", "scale": {"domain": ["s1","s2","s3","s4"], "range": ["#C4C4C4","#FF0000","#008000","#00E400"]},
                     "legend": {"orient": "none", "legendX": 400, "legendY": -9.5, "title": null, "symbolType": "stroke", "symbolSize": 3700, "symbolStrokeWidth": 3, "clipHeight": 33.5, "labelFontSize": 22, "labelColor": "#222", "labelFont": "Liberation Sans", "labelOffset": 5, "rowPadding": 0, "padding": 0, "labelExpr": "datum.label == 's1' ? '207.1 / 110.0' : datum.label == 's2' ? '223.1 / 110.0' : datum.label == 's3' ? '399.2 / 205.1' : '399.2 / 223.1'"}},
           "detail": {"field": "k"}
         }},
        {"data": {"name": "lead"}, "transform": [{"filter": "datum.p == 'c'"}],
         "mark": {"type": "rule", "strokeWidth": 2, "color": "#111"},
         "encoding": {
           "x": {"field": "x", "type": "quantitative", "axis": {"orient": "bottom", "values": [1.5,2.5,3.5,4.5,5.5,6.5], "labels": false, "domain": false, "tickSize": 5, "title": null}},
           "y": {"field": "y", "type": "quantitative", "axis": {"orient": "left", "values": [1,3,5,7], "labels": false, "domain": false, "tickSize": 6, "title": null}},
           "x2": {"field": "x2"}, "y2": {"field": "y2"}}},
        {"data": {"name": "ann"}, "transform": [{"filter": "datum.p == 'c'"}],
         "mark": {"type": "text", "align": "left", "baseline": "alphabetic", "fontSize": 29},
         "encoding": {"x": {"field": "x", "type": "quantitative", "axis": null}, "y": {"field": "y", "type": "quantitative", "axis": null}, "text": {"field": "t"}}},
        {"data": {"name": "ital"}, "transform": [{"filter": "datum.p == 'c'"}],
         "mark": {"type": "text", "align": "right", "baseline": "alphabetic", "fontSize": 29, "fontStyle": "italic"},
         "encoding": {"x": {"field": "x", "type": "quantitative", "axis": null}, "y": {"field": "y", "type": "quantitative", "axis": null}, "text": {"field": "t"}}},
        {"data": {"name": "bold"}, "transform": [{"filter": "datum.p == 'c'"}],
         "mark": {"type": "text", "align": "left", "baseline": "alphabetic", "fontSize": 29, "fontWeight": "bold"},
         "encoding": {"x": {"field": "x", "type": "quantitative", "axis": null}, "y": {"field": "y", "type": "quantitative", "axis": null}, "text": {"field": "t"}}},
        {"data": {"name": "letters"}, "transform": [{"filter": "datum.p == 'c'"}],
         "mark": {"type": "text", "align": "left", "baseline": "alphabetic", "fontSize": 29, "fontWeight": "bold"},
         "encoding": {"x": {"field": "x", "type": "quantitative", "axis": null}, "y": {"field": "y", "type": "quantitative", "axis": null}, "text": {"field": "t"}}}
      ]
    }
  ]
}
